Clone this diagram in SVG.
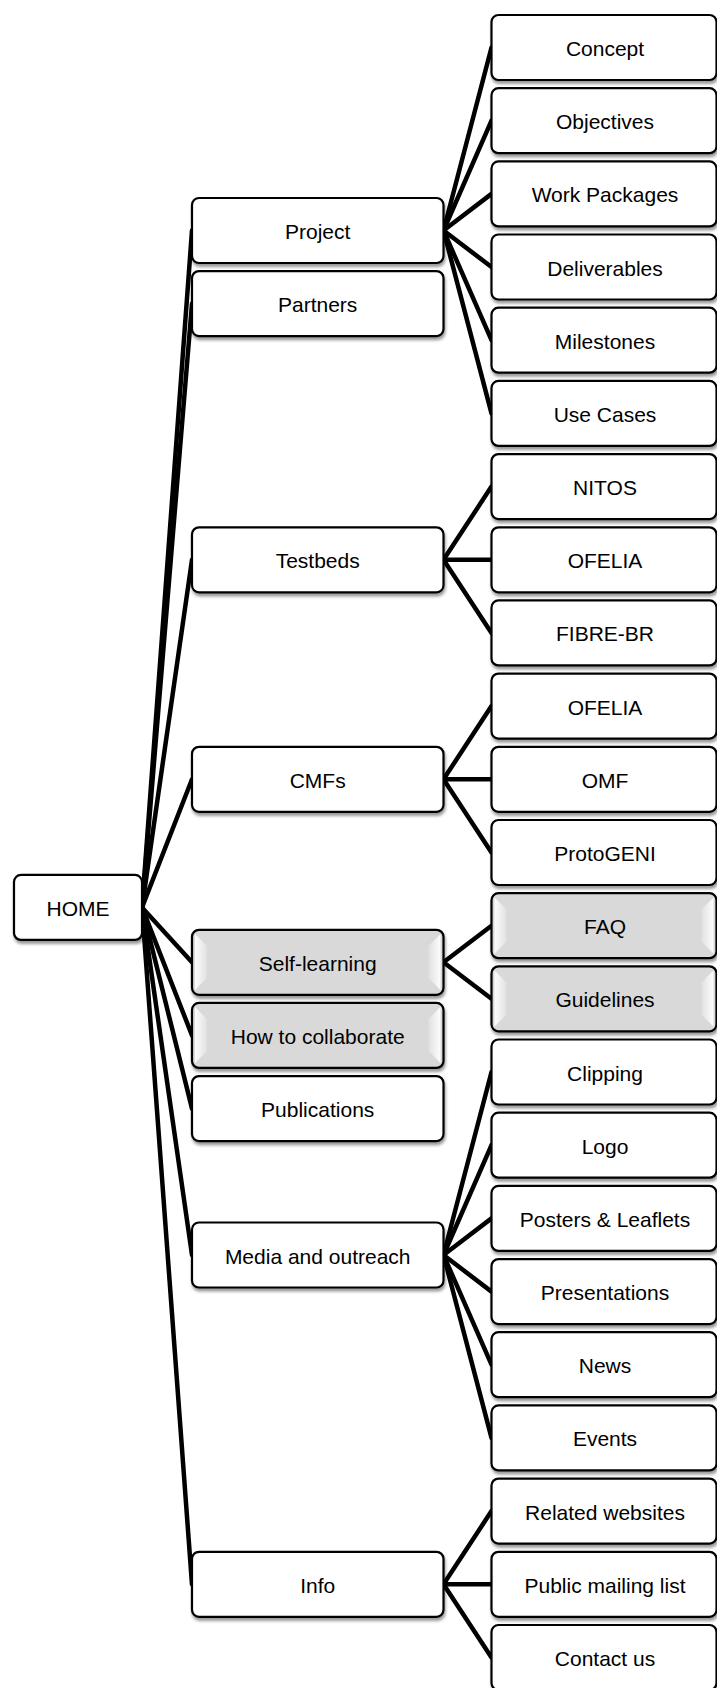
<svg xmlns="http://www.w3.org/2000/svg" width="717" height="1688" viewBox="0 0 717 1688">
<defs>
<filter id="sh" x="-10%" y="-20%" width="120%" height="150%">
<feDropShadow dx="1" dy="3" stdDeviation="1.8" flood-color="#000" flood-opacity="0.4"/>
</filter>
<linearGradient id="bl" x1="0" y1="0" x2="1" y2="0">
<stop offset="0" stop-color="#ffffff" stop-opacity="0.95"/>
<stop offset="1" stop-color="#ffffff" stop-opacity="0.2"/>
</linearGradient>
<linearGradient id="br" x1="1" y1="0" x2="0" y2="0">
<stop offset="0" stop-color="#ffffff" stop-opacity="0.95"/>
<stop offset="1" stop-color="#ffffff" stop-opacity="0.2"/>
</linearGradient>
</defs>
<style>
.b{fill:#fff;stroke:#000;stroke-width:2.2;filter:url(#sh)}
.g{fill:#d9d9d9;stroke:#000;stroke-width:2.2;filter:url(#sh)}
.t{font-family:"Liberation Sans",Arial,sans-serif;font-size:21px;fill:#000;text-anchor:middle}
.c line{stroke:#000;stroke-width:4.5;stroke-linecap:round}
</style>
<g id="connectors" class="c">
<line x1="142" y1="907.4" x2="192" y2="230.5"/>
<line x1="142" y1="907.4" x2="192" y2="303.6"/>
<line x1="142" y1="907.4" x2="192" y2="559.8"/>
<line x1="142" y1="907.4" x2="192" y2="779.3"/>
<line x1="142" y1="907.4" x2="192" y2="962.3"/>
<line x1="142" y1="907.4" x2="192" y2="1035.4"/>
<line x1="142" y1="907.4" x2="192" y2="1108.6"/>
<line x1="142" y1="907.4" x2="192" y2="1255"/>
<line x1="142" y1="907.4" x2="192" y2="1584.3"/>
<line x1="443.5" y1="230.5" x2="491.5" y2="47.5"/>
<line x1="443.5" y1="230.5" x2="491.5" y2="120.7"/>
<line x1="443.5" y1="230.5" x2="491.5" y2="193.9"/>
<line x1="443.5" y1="230.5" x2="491.5" y2="267"/>
<line x1="443.5" y1="230.5" x2="491.5" y2="340.2"/>
<line x1="443.5" y1="230.5" x2="491.5" y2="413.4"/>
<line x1="443.5" y1="559.8" x2="491.5" y2="486.6"/>
<line x1="443.5" y1="559.8" x2="491.5" y2="559.8"/>
<line x1="443.5" y1="559.8" x2="491.5" y2="632.9"/>
<line x1="443.5" y1="779.3" x2="491.5" y2="706.1"/>
<line x1="443.5" y1="779.3" x2="491.5" y2="779.3"/>
<line x1="443.5" y1="779.3" x2="491.5" y2="852.5"/>
<line x1="443.5" y1="962.3" x2="491.5" y2="925.7"/>
<line x1="443.5" y1="962.3" x2="491.5" y2="998.8"/>
<line x1="443.5" y1="1255" x2="491.5" y2="1072"/>
<line x1="443.5" y1="1255" x2="491.5" y2="1145.2"/>
<line x1="443.5" y1="1255" x2="491.5" y2="1218.4"/>
<line x1="443.5" y1="1255" x2="491.5" y2="1291.6"/>
<line x1="443.5" y1="1255" x2="491.5" y2="1364.7"/>
<line x1="443.5" y1="1255" x2="491.5" y2="1437.9"/>
<line x1="443.5" y1="1584.3" x2="491.5" y2="1511.1"/>
<line x1="443.5" y1="1584.3" x2="491.5" y2="1584.3"/>
<line x1="443.5" y1="1584.3" x2="491.5" y2="1657.5"/>
</g>
<g id="home"><rect class="b" x="14" y="874.9" width="128" height="65" rx="7"/><text class="t" x="78" y="915.9">HOME</text></g>
<g id="project"><rect class="b" x="192" y="198" width="251.5" height="65" rx="7"/><text class="t" x="317.7" y="239">Project</text></g>
<g id="partners"><rect class="b" x="192" y="271.1" width="251.5" height="65" rx="7"/><text class="t" x="317.7" y="312.1">Partners</text></g>
<g id="testbeds"><rect class="b" x="192" y="527.3" width="251.5" height="65" rx="7"/><text class="t" x="317.7" y="568.3">Testbeds</text></g>
<g id="cmfs"><rect class="b" x="192" y="746.8" width="251.5" height="65" rx="7"/><text class="t" x="317.7" y="787.8">CMFs</text></g>
<g id="selflearning"><rect class="g" x="192" y="929.8" width="251.5" height="65" rx="7"/><polygon fill="url(#bl)" points="195,934 207,946 207,978 195,990"/><polygon fill="url(#br)" points="440.5,934 428.5,946 428.5,978 440.5,990"/><text class="t" x="317.7" y="970.8">Self-learning</text></g>
<g id="collaborate"><rect class="g" x="192" y="1002.9" width="251.5" height="65" rx="7"/><polygon fill="url(#bl)" points="195,1007 207,1019 207,1051 195,1063"/><polygon fill="url(#br)" points="440.5,1007 428.5,1019 428.5,1051 440.5,1063"/><text class="t" x="317.7" y="1043.9">How to collaborate</text></g>
<g id="publications"><rect class="b" x="192" y="1076.1" width="251.5" height="65" rx="7"/><text class="t" x="317.7" y="1117.1">Publications</text></g>
<g id="media"><rect class="b" x="192" y="1222.5" width="251.5" height="65" rx="7"/><text class="t" x="317.7" y="1263.5">Media and outreach</text></g>
<g id="info"><rect class="b" x="192" y="1551.8" width="251.5" height="65" rx="7"/><text class="t" x="317.7" y="1592.8">Info</text></g>
<g id="concept"><rect class="b" x="491.5" y="15" width="225" height="65" rx="7"/><text class="t" x="605" y="56">Concept</text></g>
<g id="objectives"><rect class="b" x="491.5" y="88.2" width="225" height="65" rx="7"/><text class="t" x="605" y="129.2">Objectives</text></g>
<g id="workpackages"><rect class="b" x="491.5" y="161.4" width="225" height="65" rx="7"/><text class="t" x="605" y="202.4">Work Packages</text></g>
<g id="deliverables"><rect class="b" x="491.5" y="234.5" width="225" height="65" rx="7"/><text class="t" x="605" y="275.5">Deliverables</text></g>
<g id="milestones"><rect class="b" x="491.5" y="307.7" width="225" height="65" rx="7"/><text class="t" x="605" y="348.7">Milestones</text></g>
<g id="usecases"><rect class="b" x="491.5" y="380.9" width="225" height="65" rx="7"/><text class="t" x="605" y="421.9">Use Cases</text></g>
<g id="nitos"><rect class="b" x="491.5" y="454.1" width="225" height="65" rx="7"/><text class="t" x="605" y="495.1">NITOS</text></g>
<g id="ofelia1"><rect class="b" x="491.5" y="527.3" width="225" height="65" rx="7"/><text class="t" x="605" y="568.3">OFELIA</text></g>
<g id="fibrebr"><rect class="b" x="491.5" y="600.4" width="225" height="65" rx="7"/><text class="t" x="605" y="641.4">FIBRE-BR</text></g>
<g id="ofelia2"><rect class="b" x="491.5" y="673.6" width="225" height="65" rx="7"/><text class="t" x="605" y="714.6">OFELIA</text></g>
<g id="omf"><rect class="b" x="491.5" y="746.8" width="225" height="65" rx="7"/><text class="t" x="605" y="787.8">OMF</text></g>
<g id="protogeni"><rect class="b" x="491.5" y="820" width="225" height="65" rx="7"/><text class="t" x="605" y="861">ProtoGENI</text></g>
<g id="faq"><rect class="g" x="491.5" y="893.2" width="225" height="65" rx="7"/><polygon fill="url(#bl)" points="494.5,897.4 506.5,909.4 506.5,941.4 494.5,953.4"/><polygon fill="url(#br)" points="713.5,897.4 701.5,909.4 701.5,941.4 713.5,953.4"/><text class="t" x="605" y="934.2">FAQ</text></g>
<g id="guidelines"><rect class="g" x="491.5" y="966.3" width="225" height="65" rx="7"/><polygon fill="url(#bl)" points="494.5,970.5 506.5,982.5 506.5,1014.5 494.5,1026.5"/><polygon fill="url(#br)" points="713.5,970.5 701.5,982.5 701.5,1014.5 713.5,1026.5"/><text class="t" x="605" y="1007.3">Guidelines</text></g>
<g id="clipping"><rect class="b" x="491.5" y="1039.5" width="225" height="65" rx="7"/><text class="t" x="605" y="1080.5">Clipping</text></g>
<g id="logo"><rect class="b" x="491.5" y="1112.7" width="225" height="65" rx="7"/><text class="t" x="605" y="1153.7">Logo</text></g>
<g id="posters"><rect class="b" x="491.5" y="1185.9" width="225" height="65" rx="7"/><text class="t" x="605" y="1226.9">Posters &amp; Leaflets</text></g>
<g id="presentations"><rect class="b" x="491.5" y="1259.1" width="225" height="65" rx="7"/><text class="t" x="605" y="1300.1">Presentations</text></g>
<g id="news"><rect class="b" x="491.5" y="1332.2" width="225" height="65" rx="7"/><text class="t" x="605" y="1373.2">News</text></g>
<g id="events"><rect class="b" x="491.5" y="1405.4" width="225" height="65" rx="7"/><text class="t" x="605" y="1446.4">Events</text></g>
<g id="related"><rect class="b" x="491.5" y="1478.6" width="225" height="65" rx="7"/><text class="t" x="605" y="1519.6">Related websites</text></g>
<g id="mailinglist"><rect class="b" x="491.5" y="1551.8" width="225" height="65" rx="7"/><text class="t" x="605" y="1592.8">Public mailing list</text></g>
<g id="contact"><rect class="b" x="491.5" y="1625" width="225" height="65" rx="7"/><text class="t" x="605" y="1666">Contact us</text></g>
</svg>
